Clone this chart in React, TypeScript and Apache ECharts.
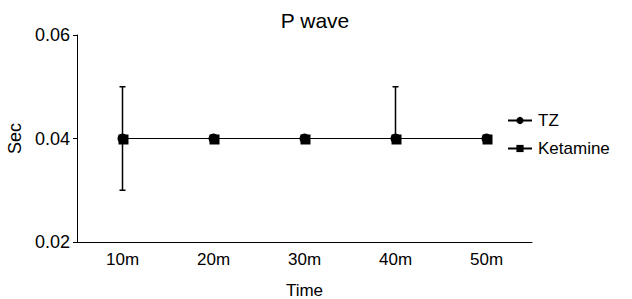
import React, { useEffect, useRef } from "react";
import * as echarts from "echarts";

const categories = ["10m", "20m", "30m", "40m", "50m"];
const tzValues = [0.04, 0.04, 0.04, 0.04, 0.04];
const ketamineValues = [0.04, 0.04, 0.04, 0.04, 0.04];
// [category index, low, high]
const errorBars = [
  [0, 0.03, 0.05],
  [3, 0.04, 0.05],
];
const yTicks = { min: 0.02, max: 0.06, interval: 0.02 };

const FONT = "'Liberation Sans', Arial, sans-serif";

export default function App() {
  const ref = useRef<HTMLDivElement>(null);
  useEffect(() => {
    if (!ref.current) return;
    const chart = echarts.init(ref.current, null, { renderer: "svg" });
    chart.setOption({
      animation: false,
      backgroundColor: "#fff",
      textStyle: { fontFamily: FONT, color: "#000" },
      title: {
        text: "P wave",
        left: 310,
        textAlign: "center",
        top: 5,
        textStyle: { fontFamily: FONT, fontSize: 21, fontWeight: "normal", color: "#000" },
      },
      legend: {
        orient: "vertical",
        left: 502,
        top: 107,
        itemWidth: 24,
        itemHeight: 9,
        itemGap: 11,
        textStyle: { fontFamily: FONT, fontSize: 17, color: "#000", padding: [0, 0, 0, 1] },
        data: ["TZ", "Ketamine"],
      },
      grid: { left: 77, right: 100, top: 35, bottom: 57, outerBoundsMode: "none", containLabel: false },
      xAxis: {
        type: "category",
        data: categories,
        boundaryGap: true,
        name: "Time",
        nameLocation: "middle",
        nameGap: 40,
        nameTextStyle: { fontFamily: FONT, fontSize: 17, color: "#000" },
        axisLine: { lineStyle: { color: "#000", width: 1 } },
        axisTick: { inside: true, length: 4, lineStyle: { color: "#000" } },
        axisLabel: { fontFamily: FONT, fontSize: 17, color: "#000", margin: 9 },
        splitLine: { show: false },
      },
      yAxis: {
        type: "value",
        min: yTicks.min,
        max: yTicks.max,
        interval: yTicks.interval,
        name: "Sec",
        nameLocation: "middle",
        nameGap: 49,
        nameTextStyle: { fontFamily: FONT, fontSize: 18, color: "#000" },
        axisLine: { show: true, lineStyle: { color: "#000", width: 1 } },
        axisTick: { show: true, length: 4, lineStyle: { color: "#000" } },
        axisLabel: {
          fontFamily: FONT,
          fontSize: 18,
          color: "#000",
          margin: 7,
          formatter: (v: number) => v.toFixed(2),
        },
        splitLine: { show: false },
      },
      series: [
        {
          name: "TZ",
          type: "line",
          data: tzValues,
          symbol: "circle",
          symbolSize: 10,
          itemStyle: { color: "#000" },
          lineStyle: { color: "#000", width: 1 },
          z: 3,
        },
        {
          name: "Ketamine",
          type: "line",
          data: ketamineValues,
          symbol: "rect",
          symbolSize: 10,
          symbolOffset: [1, 1],
          itemStyle: { color: "#000" },
          lineStyle: { color: "#000", width: 1 },
          z: 4,
        },
        {
          name: "err",
          type: "custom",
          data: errorBars,
          z: 2,
          renderItem: (params: any, api: any) => {
            const x = api.value(0);
            const lo = api.coord([x, api.value(1)]);
            const hi = api.coord([x, api.value(2)]);
            const cap = 3;
            const style = { stroke: "#000", lineWidth: 1.5 };
            return {
              type: "group",
              children: [
                { type: "line", shape: { x1: lo[0], y1: lo[1], x2: hi[0], y2: hi[1] }, style },
                { type: "line", shape: { x1: hi[0] - cap, y1: hi[1], x2: hi[0] + cap, y2: hi[1] }, style },
                { type: "line", shape: { x1: lo[0] - cap, y1: lo[1], x2: lo[0] + cap, y2: lo[1] }, style },
              ],
            };
          },
        },
      ],
    });
    return () => chart.dispose();
  }, []);
  return <div ref={ref} style={{ width: 632, height: 299, position: "absolute", left: 0, top: 0 }} />;
}
